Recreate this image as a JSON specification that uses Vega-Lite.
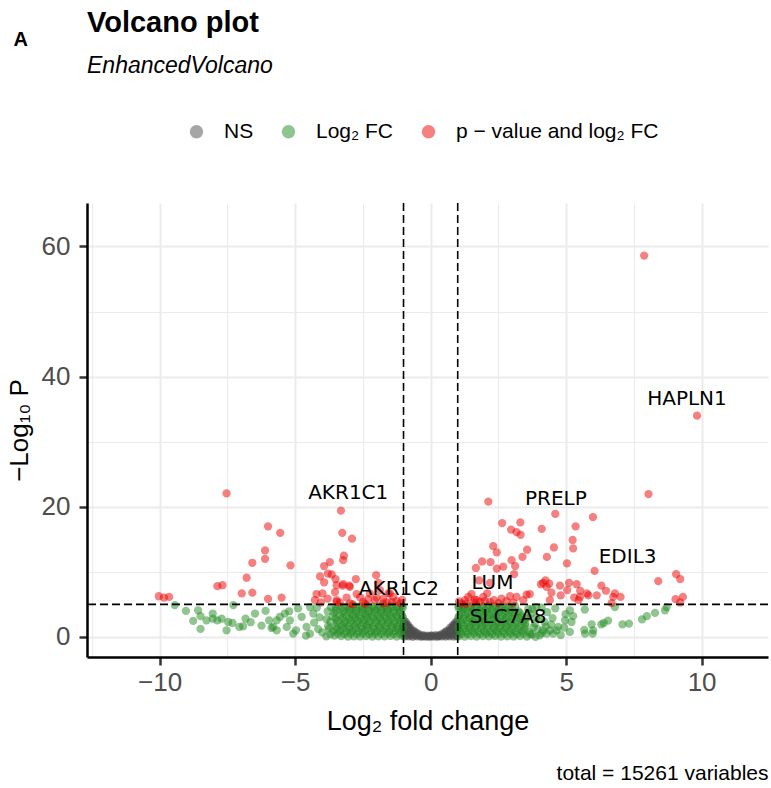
{
  "$schema": "https://vega.github.io/schema/vega-lite/v6.json",
  "width": 681,
  "height": 454,
  "autosize": {"type": "none"},
  "padding": {"left": 87, "top": 203, "right": 3, "bottom": 131},
  "background": "white",
  "config": {"view": {"stroke": null}, "font": "Liberation Sans"},
  "title": {
    "text": "Volcano plot",
    "subtitle": "EnhancedVolcano",
    "anchor": "start",
    "frame": "group",
    "font": "Liberation Sans",
    "fontSize": 29,
    "fontWeight": "bold",
    "color": "black",
    "subtitleFont": "Liberation Sans",
    "subtitleFontSize": 23,
    "subtitleFontStyle": "italic",
    "subtitleColor": "black",
    "subtitlePadding": 17,
    "offset": -49
  },
  "datasets": {
    "pts": [
      {"x": -0.96, "y": 0.05, "c": "n"}, {"x": -0.81, "y": 0.1, "c": "n"}, {"x": -0.66, "y": 0.02, "c": "n"}, {"x": -0.5, "y": 0.08, "c": "n"}, {"x": -0.35, "y": 0.03, "c": "n"}, {"x": -0.2, "y": 0.06, "c": "n"}, {"x": -0.05, "y": 0.02, "c": "n"}, {"x": 0.1, "y": 0.05, "c": "n"}, {"x": 0.25, "y": 0.03, "c": "n"}, {"x": 0.4, "y": 0.07, "c": "n"}, {"x": 0.55, "y": 0.04, "c": "n"}, {"x": 0.7, "y": 0.09, "c": "n"}, {"x": 0.85, "y": 0.05, "c": "n"}, {"x": 0.97, "y": 0.08, "c": "n"},
      {"x": -0.88, "y": 0.2, "c": "n"}, {"x": -0.73, "y": 0.18, "c": "n"}, {"x": -0.58, "y": 0.22, "c": "n"}, {"x": -0.43, "y": 0.17, "c": "n"}, {"x": -0.28, "y": 0.12, "c": "n"}, {"x": -0.13, "y": 0.1, "c": "n"}, {"x": 0.02, "y": 0.14, "c": "n"}, {"x": 0.17, "y": 0.12, "c": "n"}, {"x": 0.32, "y": 0.16, "c": "n"}, {"x": 0.47, "y": 0.2, "c": "n"}, {"x": 0.62, "y": 0.19, "c": "n"}, {"x": 0.77, "y": 0.23, "c": "n"}, {"x": 0.92, "y": 0.21, "c": "n"},
      {"x": -0.98, "y": 0.4, "c": "n"}, {"x": -0.86, "y": 0.35, "c": "n"}, {"x": -0.72, "y": 0.38, "c": "n"}, {"x": -0.57, "y": 0.3, "c": "n"}, {"x": -0.42, "y": 0.33, "c": "n"}, {"x": -0.27, "y": 0.28, "c": "n"}, {"x": -0.12, "y": 0.22, "c": "n"}, {"x": 0.03, "y": 0.25, "c": "n"}, {"x": 0.18, "y": 0.27, "c": "n"}, {"x": 0.33, "y": 0.3, "c": "n"}, {"x": 0.48, "y": 0.36, "c": "n"}, {"x": 0.63, "y": 0.34, "c": "n"}, {"x": 0.78, "y": 0.4, "c": "n"}, {"x": 0.93, "y": 0.37, "c": "n"},
      {"x": -0.97, "y": 0.75, "c": "n"}, {"x": -0.88, "y": 0.68, "c": "n"}, {"x": -0.76, "y": 0.72, "c": "n"}, {"x": -0.64, "y": 0.66, "c": "n"}, {"x": -0.52, "y": 0.6, "c": "n"}, {"x": 0.5, "y": 0.62, "c": "n"}, {"x": 0.62, "y": 0.7, "c": "n"}, {"x": 0.74, "y": 0.66, "c": "n"}, {"x": 0.86, "y": 0.74, "c": "n"}, {"x": 0.96, "y": 0.7, "c": "n"},
      {"x": -0.93, "y": 0.92, "c": "n"}, {"x": -0.82, "y": 0.88, "c": "n"}, {"x": -0.7, "y": 0.84, "c": "n"}, {"x": -0.58, "y": 0.78, "c": "n"}, {"x": 0.56, "y": 0.8, "c": "n"}, {"x": 0.68, "y": 0.86, "c": "n"}, {"x": 0.8, "y": 0.9, "c": "n"}, {"x": 0.92, "y": 0.94, "c": "n"},
      {"x": -0.99, "y": 1.15, "c": "n"}, {"x": -0.9, "y": 1.1, "c": "n"}, {"x": -0.8, "y": 1.05, "c": "n"}, {"x": -0.7, "y": 1.02, "c": "n"}, {"x": -0.62, "y": 0.95, "c": "n"}, {"x": 0.6, "y": 0.98, "c": "n"}, {"x": 0.7, "y": 1.05, "c": "n"}, {"x": 0.8, "y": 1.1, "c": "n"}, {"x": 0.9, "y": 1.08, "c": "n"}, {"x": 0.98, "y": 1.15, "c": "n"},
      {"x": -0.95, "y": 1.36, "c": "n"}, {"x": -0.85, "y": 1.3, "c": "n"}, {"x": -0.76, "y": 1.24, "c": "n"}, {"x": 0.77, "y": 1.26, "c": "n"}, {"x": 0.86, "y": 1.32, "c": "n"}, {"x": 0.95, "y": 1.38, "c": "n"},
      {"x": -0.98, "y": 1.6, "c": "n"}, {"x": -0.9, "y": 1.52, "c": "n"}, {"x": -0.82, "y": 1.48, "c": "n"}, {"x": -0.74, "y": 1.4, "c": "n"}, {"x": 0.72, "y": 1.42, "c": "n"}, {"x": 0.8, "y": 1.5, "c": "n"}, {"x": 0.88, "y": 1.55, "c": "n"}, {"x": 0.96, "y": 1.6, "c": "n"},
      {"x": -0.94, "y": 1.8, "c": "n"}, {"x": -0.86, "y": 1.72, "c": "n"}, {"x": 0.86, "y": 1.7, "c": "n"}, {"x": 0.94, "y": 1.8, "c": "n"},
      {"x": -0.97, "y": 2.05, "c": "n"}, {"x": -0.9, "y": 1.95, "c": "n"}, {"x": -0.83, "y": 1.85, "c": "n"}, {"x": 0.82, "y": 1.82, "c": "n"}, {"x": 0.89, "y": 1.95, "c": "n"}, {"x": 0.96, "y": 2.0, "c": "n"},
      {"x": -0.97, "y": 2.45, "c": "n"}, {"x": -0.91, "y": 2.3, "c": "n"}, {"x": 0.91, "y": 2.25, "c": "n"}, {"x": 0.97, "y": 2.4, "c": "n"},
      {"x": -0.45, "y": 0.5, "c": "n"}, {"x": 0.42, "y": 0.48, "c": "n"}, {"x": -0.3, "y": 0.15, "c": "n"}, {"x": 0.3, "y": 0.15, "c": "n"}, {"x": 0.0, "y": 0.12, "c": "n"},

      {"x": -1.04, "y": 0.12, "c": "f"}, {"x": -1.25, "y": 0.05, "c": "f"}, {"x": -1.48, "y": 0.15, "c": "f"}, {"x": -1.7, "y": 0.08, "c": "f"}, {"x": -1.93, "y": 0.1, "c": "f"}, {"x": -2.15, "y": 0.04, "c": "f"}, {"x": -2.38, "y": 0.14, "c": "f"}, {"x": -2.6, "y": 0.07, "c": "f"}, {"x": -2.83, "y": 0.1, "c": "f"}, {"x": -3.05, "y": 0.05, "c": "f"}, {"x": -3.3, "y": 0.12, "c": "f"}, {"x": -3.55, "y": 0.2, "c": "f"}, {"x": -3.85, "y": 0.1, "c": "f"},
      {"x": -1.15, "y": 0.5, "c": "f"}, {"x": -1.37, "y": 0.46, "c": "f"}, {"x": -1.6, "y": 0.54, "c": "f"}, {"x": -1.82, "y": 0.48, "c": "f"}, {"x": -2.05, "y": 0.52, "c": "f"}, {"x": -2.27, "y": 0.44, "c": "f"}, {"x": -2.5, "y": 0.56, "c": "f"}, {"x": -2.72, "y": 0.47, "c": "f"}, {"x": -2.95, "y": 0.53, "c": "f"}, {"x": -3.18, "y": 0.45, "c": "f"}, {"x": -3.42, "y": 0.5, "c": "f"}, {"x": -3.7, "y": 0.42, "c": "f"},
      {"x": -1.08, "y": 0.85, "c": "f"}, {"x": -1.3, "y": 0.92, "c": "f"}, {"x": -1.52, "y": 0.8, "c": "f"}, {"x": -1.75, "y": 0.95, "c": "f"}, {"x": -1.97, "y": 0.88, "c": "f"}, {"x": -2.2, "y": 0.82, "c": "f"}, {"x": -2.42, "y": 0.96, "c": "f"}, {"x": -2.65, "y": 0.86, "c": "f"}, {"x": -2.88, "y": 0.9, "c": "f"}, {"x": -3.1, "y": 0.8, "c": "f"}, {"x": -3.34, "y": 0.94, "c": "f"}, {"x": -3.6, "y": 0.85, "c": "f"}, {"x": -4.0, "y": 0.7, "c": "f"},
      {"x": -1.02, "y": 1.3, "c": "f"}, {"x": -1.2, "y": 1.26, "c": "f"}, {"x": -1.41, "y": 1.34, "c": "f"}, {"x": -1.63, "y": 1.28, "c": "f"}, {"x": -1.86, "y": 1.32, "c": "f"}, {"x": -2.08, "y": 1.24, "c": "f"}, {"x": -2.31, "y": 1.36, "c": "f"}, {"x": -2.53, "y": 1.27, "c": "f"}, {"x": -2.76, "y": 1.33, "c": "f"}, {"x": -2.99, "y": 1.25, "c": "f"}, {"x": -3.22, "y": 1.3, "c": "f"}, {"x": -3.46, "y": 1.22, "c": "f"}, {"x": -3.75, "y": 1.28, "c": "f"},
      {"x": -1.03, "y": 1.7, "c": "f"}, {"x": -1.22, "y": 1.62, "c": "f"}, {"x": -1.45, "y": 1.75, "c": "f"}, {"x": -1.66, "y": 1.68, "c": "f"}, {"x": -1.9, "y": 1.72, "c": "f"}, {"x": -2.12, "y": 1.6, "c": "f"}, {"x": -2.35, "y": 1.78, "c": "f"}, {"x": -2.57, "y": 1.66, "c": "f"}, {"x": -2.8, "y": 1.74, "c": "f"}, {"x": -3.02, "y": 1.63, "c": "f"}, {"x": -3.26, "y": 1.7, "c": "f"}, {"x": -3.5, "y": 1.58, "c": "f"}, {"x": -3.78, "y": 1.65, "c": "f"},
      {"x": -1.14, "y": 2.1, "c": "f"}, {"x": -1.36, "y": 2.06, "c": "f"}, {"x": -1.59, "y": 2.14, "c": "f"}, {"x": -1.82, "y": 2.08, "c": "f"}, {"x": -2.04, "y": 2.12, "c": "f"}, {"x": -2.28, "y": 2.04, "c": "f"}, {"x": -2.5, "y": 2.16, "c": "f"}, {"x": -2.73, "y": 2.07, "c": "f"}, {"x": -2.97, "y": 2.13, "c": "f"}, {"x": -3.2, "y": 2.05, "c": "f"}, {"x": -3.46, "y": 2.1, "c": "f"},
      {"x": -1.1, "y": 2.5, "c": "f"}, {"x": -1.33, "y": 2.44, "c": "f"}, {"x": -1.55, "y": 2.56, "c": "f"}, {"x": -1.78, "y": 2.48, "c": "f"}, {"x": -2.0, "y": 2.52, "c": "f"}, {"x": -2.24, "y": 2.42, "c": "f"}, {"x": -2.46, "y": 2.58, "c": "f"}, {"x": -2.7, "y": 2.46, "c": "f"}, {"x": -2.93, "y": 2.55, "c": "f"}, {"x": -3.17, "y": 2.4, "c": "f"}, {"x": -3.42, "y": 2.5, "c": "f"}, {"x": -3.7, "y": 2.35, "c": "f"},
      {"x": -1.02, "y": 2.9, "c": "f"}, {"x": -1.2, "y": 2.86, "c": "f"}, {"x": -1.42, "y": 2.94, "c": "f"}, {"x": -1.64, "y": 2.88, "c": "f"}, {"x": -1.87, "y": 2.92, "c": "f"}, {"x": -2.1, "y": 2.84, "c": "f"}, {"x": -2.33, "y": 2.96, "c": "f"}, {"x": -2.56, "y": 2.87, "c": "f"}, {"x": -2.78, "y": 2.93, "c": "f"}, {"x": -3.0, "y": 2.85, "c": "f"}, {"x": -3.24, "y": 2.9, "c": "f"}, {"x": -3.5, "y": 2.82, "c": "f"}, {"x": -3.85, "y": 2.75, "c": "f"},
      {"x": -1.05, "y": 3.3, "c": "f"}, {"x": -1.26, "y": 3.24, "c": "f"}, {"x": -1.5, "y": 3.36, "c": "f"}, {"x": -1.72, "y": 3.28, "c": "f"}, {"x": -1.95, "y": 3.32, "c": "f"}, {"x": -2.18, "y": 3.22, "c": "f"}, {"x": -2.4, "y": 3.38, "c": "f"}, {"x": -2.63, "y": 3.26, "c": "f"}, {"x": -2.86, "y": 3.34, "c": "f"}, {"x": -3.1, "y": 3.2, "c": "f"}, {"x": -3.35, "y": 3.3, "c": "f"}, {"x": -3.62, "y": 3.15, "c": "f"}, {"x": -4.1, "y": 3.0, "c": "f"},
      {"x": -1.15, "y": 3.7, "c": "f"}, {"x": -1.38, "y": 3.66, "c": "f"}, {"x": -1.62, "y": 3.74, "c": "f"}, {"x": -1.84, "y": 3.68, "c": "f"}, {"x": -2.07, "y": 3.72, "c": "f"}, {"x": -2.3, "y": 3.64, "c": "f"}, {"x": -2.53, "y": 3.76, "c": "f"}, {"x": -2.76, "y": 3.67, "c": "f"}, {"x": -3.0, "y": 3.73, "c": "f"}, {"x": -3.25, "y": 3.65, "c": "f"}, {"x": -3.55, "y": 3.7, "c": "f"},
      {"x": -1.12, "y": 4.1, "c": "f"}, {"x": -1.35, "y": 4.04, "c": "f"}, {"x": -1.58, "y": 4.16, "c": "f"}, {"x": -1.8, "y": 4.08, "c": "f"}, {"x": -2.03, "y": 4.12, "c": "f"}, {"x": -2.27, "y": 4.02, "c": "f"}, {"x": -2.5, "y": 4.18, "c": "f"}, {"x": -2.74, "y": 4.06, "c": "f"}, {"x": -2.98, "y": 4.14, "c": "f"}, {"x": -3.22, "y": 4.0, "c": "f"}, {"x": -3.5, "y": 4.1, "c": "f"}, {"x": -3.8, "y": 3.95, "c": "f"},
      {"x": -1.03, "y": 4.45, "c": "f"}, {"x": -1.18, "y": 4.42, "c": "f"}, {"x": -1.4, "y": 4.5, "c": "f"}, {"x": -1.62, "y": 4.44, "c": "f"}, {"x": -1.85, "y": 4.48, "c": "f"}, {"x": -2.08, "y": 4.4, "c": "f"}, {"x": -2.3, "y": 4.52, "c": "f"}, {"x": -2.53, "y": 4.43, "c": "f"}, {"x": -2.76, "y": 4.49, "c": "f"}, {"x": -3.0, "y": 4.41, "c": "f"}, {"x": -3.24, "y": 4.46, "c": "f"}, {"x": -3.5, "y": 4.38, "c": "f"},
      {"x": -1.04, "y": 4.78, "c": "f"}, {"x": -1.25, "y": 4.72, "c": "f"}, {"x": -1.47, "y": 4.82, "c": "f"}, {"x": -1.7, "y": 4.75, "c": "f"}, {"x": -1.92, "y": 4.8, "c": "f"}, {"x": -2.15, "y": 4.7, "c": "f"}, {"x": -2.38, "y": 4.85, "c": "f"}, {"x": -2.62, "y": 4.74, "c": "f"}, {"x": -2.85, "y": 4.8, "c": "f"}, {"x": -3.1, "y": 4.68, "c": "f"}, {"x": -3.38, "y": 4.76, "c": "f"}, {"x": -3.68, "y": 4.6, "c": "f"}, {"x": -4.2, "y": 4.5, "c": "f"},
      {"x": -9.44, "y": 4.9, "c": "f"}, {"x": -9.03, "y": 4.0, "c": "f"}, {"x": -8.76, "y": 2.46, "c": "f"}, {"x": -8.49, "y": 1.23, "c": "f"}, {"x": -8.58, "y": 4.1, "c": "f"}, {"x": -8.49, "y": 3.2, "c": "f"}, {"x": -8.27, "y": 2.56, "c": "f"}, {"x": -8.04, "y": 3.6, "c": "f"}, {"x": -8.04, "y": 2.8, "c": "f"}, {"x": -7.87, "y": 2.56, "c": "f"}, {"x": -7.71, "y": 2.8, "c": "f"}, {"x": -7.53, "y": 1.03, "c": "f"}, {"x": -7.47, "y": 2.3, "c": "f"}, {"x": -7.28, "y": 4.9, "c": "f"}, {"x": -7.31, "y": 2.15, "c": "f"}, {"x": -7.06, "y": 1.54, "c": "f"}, {"x": -6.92, "y": 1.64, "c": "f"}, {"x": -6.83, "y": 2.8, "c": "f"}, {"x": -6.64, "y": 2.26, "c": "f"}, {"x": -6.48, "y": 3.6, "c": "f"}, {"x": -6.24, "y": 1.75, "c": "f"}, {"x": -6.09, "y": 4.0, "c": "f"}, {"x": -5.96, "y": 2.56, "c": "f"}, {"x": -5.87, "y": 1.38, "c": "f"}, {"x": -5.68, "y": 1.03, "c": "f"}, {"x": -5.22, "y": 3.95, "c": "f"}, {"x": -5.19, "y": 2.56, "c": "f"}, {"x": -5.56, "y": 3.1, "c": "f"}, {"x": -5.31, "y": 1.54, "c": "f"}, {"x": -5.07, "y": 0.5, "c": "f"}, {"x": -4.89, "y": 4.4, "c": "f"}, {"x": -4.76, "y": 3.1, "c": "f"}, {"x": -4.58, "y": 1.54, "c": "f"}, {"x": -4.45, "y": 0.5, "c": "f"}, {"x": -4.33, "y": 3.6, "c": "f"}, {"x": -4.45, "y": 4.6, "c": "f"}, {"x": -4.97, "y": 1.03, "c": "f"}, {"x": -5.81, "y": 1.54, "c": "f"}, {"x": -5.68, "y": 2.56, "c": "f"}, {"x": -5.38, "y": 3.6, "c": "f"}, {"x": -4.3, "y": 2.2, "c": "f"}, {"x": -4.15, "y": 1.2, "c": "f"}, {"x": -4.6, "y": 0.2, "c": "f"},

      {"x": 1.04, "y": 0.1, "c": "f"}, {"x": 1.26, "y": 0.06, "c": "f"}, {"x": 1.48, "y": 0.14, "c": "f"}, {"x": 1.7, "y": 0.05, "c": "f"}, {"x": 1.93, "y": 0.12, "c": "f"}, {"x": 2.15, "y": 0.08, "c": "f"}, {"x": 2.38, "y": 0.15, "c": "f"}, {"x": 2.6, "y": 0.04, "c": "f"}, {"x": 2.83, "y": 0.1, "c": "f"}, {"x": 3.06, "y": 0.07, "c": "f"}, {"x": 3.3, "y": 0.13, "c": "f"}, {"x": 3.55, "y": 0.05, "c": "f"},
      {"x": 1.15, "y": 0.5, "c": "f"}, {"x": 1.37, "y": 0.46, "c": "f"}, {"x": 1.6, "y": 0.54, "c": "f"}, {"x": 1.82, "y": 0.48, "c": "f"}, {"x": 2.05, "y": 0.52, "c": "f"}, {"x": 2.27, "y": 0.44, "c": "f"}, {"x": 2.5, "y": 0.56, "c": "f"}, {"x": 2.72, "y": 0.47, "c": "f"}, {"x": 2.95, "y": 0.53, "c": "f"}, {"x": 3.18, "y": 0.45, "c": "f"}, {"x": 3.42, "y": 0.5, "c": "f"}, {"x": 3.68, "y": 0.42, "c": "f"},
      {"x": 1.08, "y": 0.88, "c": "f"}, {"x": 1.3, "y": 0.82, "c": "f"}, {"x": 1.52, "y": 0.95, "c": "f"}, {"x": 1.75, "y": 0.85, "c": "f"}, {"x": 1.98, "y": 0.9, "c": "f"}, {"x": 2.2, "y": 0.8, "c": "f"}, {"x": 2.43, "y": 0.94, "c": "f"}, {"x": 2.66, "y": 0.86, "c": "f"}, {"x": 2.9, "y": 0.92, "c": "f"}, {"x": 3.13, "y": 0.8, "c": "f"}, {"x": 3.38, "y": 0.9, "c": "f"}, {"x": 3.65, "y": 0.75, "c": "f"},
      {"x": 1.02, "y": 1.3, "c": "f"}, {"x": 1.2, "y": 1.26, "c": "f"}, {"x": 1.41, "y": 1.34, "c": "f"}, {"x": 1.63, "y": 1.28, "c": "f"}, {"x": 1.86, "y": 1.32, "c": "f"}, {"x": 2.08, "y": 1.24, "c": "f"}, {"x": 2.31, "y": 1.36, "c": "f"}, {"x": 2.53, "y": 1.27, "c": "f"}, {"x": 2.76, "y": 1.33, "c": "f"}, {"x": 2.99, "y": 1.25, "c": "f"}, {"x": 3.22, "y": 1.3, "c": "f"}, {"x": 3.46, "y": 1.22, "c": "f"},
      {"x": 1.03, "y": 1.68, "c": "f"}, {"x": 1.22, "y": 1.74, "c": "f"}, {"x": 1.45, "y": 1.62, "c": "f"}, {"x": 1.67, "y": 1.72, "c": "f"}, {"x": 1.9, "y": 1.66, "c": "f"}, {"x": 2.12, "y": 1.76, "c": "f"}, {"x": 2.35, "y": 1.6, "c": "f"}, {"x": 2.58, "y": 1.7, "c": "f"}, {"x": 2.8, "y": 1.65, "c": "f"}, {"x": 3.03, "y": 1.75, "c": "f"}, {"x": 3.28, "y": 1.6, "c": "f"}, {"x": 3.5, "y": 1.68, "c": "f"}, {"x": 3.8, "y": 1.5, "c": "f"},
      {"x": 1.14, "y": 2.1, "c": "f"}, {"x": 1.36, "y": 2.06, "c": "f"}, {"x": 1.59, "y": 2.14, "c": "f"}, {"x": 1.82, "y": 2.08, "c": "f"}, {"x": 2.04, "y": 2.12, "c": "f"}, {"x": 2.28, "y": 2.04, "c": "f"}, {"x": 2.5, "y": 2.16, "c": "f"}, {"x": 2.73, "y": 2.07, "c": "f"}, {"x": 2.97, "y": 2.13, "c": "f"}, {"x": 3.2, "y": 2.05, "c": "f"}, {"x": 3.5, "y": 2.1, "c": "f"},
      {"x": 1.1, "y": 2.48, "c": "f"}, {"x": 1.33, "y": 2.55, "c": "f"}, {"x": 1.55, "y": 2.42, "c": "f"}, {"x": 1.78, "y": 2.52, "c": "f"}, {"x": 2.0, "y": 2.46, "c": "f"}, {"x": 2.24, "y": 2.58, "c": "f"}, {"x": 2.47, "y": 2.44, "c": "f"}, {"x": 2.7, "y": 2.5, "c": "f"}, {"x": 2.93, "y": 2.4, "c": "f"}, {"x": 3.18, "y": 2.52, "c": "f"}, {"x": 3.42, "y": 2.38, "c": "f"},
      {"x": 1.02, "y": 2.9, "c": "f"}, {"x": 1.2, "y": 2.86, "c": "f"}, {"x": 1.42, "y": 2.94, "c": "f"}, {"x": 1.64, "y": 2.88, "c": "f"}, {"x": 1.87, "y": 2.92, "c": "f"}, {"x": 2.1, "y": 2.84, "c": "f"}, {"x": 2.33, "y": 2.96, "c": "f"}, {"x": 2.56, "y": 2.87, "c": "f"}, {"x": 2.78, "y": 2.93, "c": "f"}, {"x": 3.0, "y": 2.85, "c": "f"}, {"x": 3.24, "y": 2.9, "c": "f"}, {"x": 3.5, "y": 2.82, "c": "f"},
      {"x": 1.05, "y": 3.28, "c": "f"}, {"x": 1.27, "y": 3.34, "c": "f"}, {"x": 1.5, "y": 3.22, "c": "f"}, {"x": 1.72, "y": 3.3, "c": "f"}, {"x": 1.95, "y": 3.26, "c": "f"}, {"x": 2.18, "y": 3.36, "c": "f"}, {"x": 2.4, "y": 3.2, "c": "f"}, {"x": 2.64, "y": 3.32, "c": "f"}, {"x": 2.87, "y": 3.24, "c": "f"}, {"x": 3.1, "y": 3.3, "c": "f"}, {"x": 3.35, "y": 3.18, "c": "f"}, {"x": 3.6, "y": 3.05, "c": "f"},
      {"x": 1.15, "y": 3.7, "c": "f"}, {"x": 1.38, "y": 3.66, "c": "f"}, {"x": 1.62, "y": 3.74, "c": "f"}, {"x": 1.84, "y": 3.68, "c": "f"}, {"x": 2.07, "y": 3.72, "c": "f"}, {"x": 2.3, "y": 3.64, "c": "f"}, {"x": 2.53, "y": 3.76, "c": "f"}, {"x": 2.76, "y": 3.67, "c": "f"}, {"x": 3.0, "y": 3.73, "c": "f"}, {"x": 3.3, "y": 3.65, "c": "f"},
      {"x": 1.12, "y": 4.08, "c": "f"}, {"x": 1.35, "y": 4.14, "c": "f"}, {"x": 1.58, "y": 4.02, "c": "f"}, {"x": 1.8, "y": 4.12, "c": "f"}, {"x": 2.03, "y": 4.06, "c": "f"}, {"x": 2.27, "y": 4.16, "c": "f"}, {"x": 2.5, "y": 4.0, "c": "f"}, {"x": 2.74, "y": 4.1, "c": "f"}, {"x": 2.98, "y": 4.04, "c": "f"}, {"x": 3.24, "y": 3.95, "c": "f"},
      {"x": 1.03, "y": 4.45, "c": "f"}, {"x": 1.18, "y": 4.42, "c": "f"}, {"x": 1.4, "y": 4.5, "c": "f"}, {"x": 1.62, "y": 4.44, "c": "f"}, {"x": 1.85, "y": 4.48, "c": "f"}, {"x": 2.08, "y": 4.4, "c": "f"}, {"x": 2.3, "y": 4.52, "c": "f"}, {"x": 2.53, "y": 4.43, "c": "f"}, {"x": 2.76, "y": 4.49, "c": "f"}, {"x": 3.0, "y": 4.41, "c": "f"},
      {"x": 1.04, "y": 4.76, "c": "f"}, {"x": 1.25, "y": 4.82, "c": "f"}, {"x": 1.48, "y": 4.7, "c": "f"}, {"x": 1.7, "y": 4.8, "c": "f"}, {"x": 1.93, "y": 4.74, "c": "f"}, {"x": 2.16, "y": 4.84, "c": "f"}, {"x": 2.4, "y": 4.7, "c": "f"}, {"x": 2.63, "y": 4.78, "c": "f"}, {"x": 2.87, "y": 4.65, "c": "f"}, {"x": 3.12, "y": 4.72, "c": "f"},
      {"x": 3.75, "y": 0.4, "c": "f"}, {"x": 3.95, "y": 1.2, "c": "f"}, {"x": 4.1, "y": 0.6, "c": "f"}, {"x": 3.85, "y": 2.1, "c": "f"}, {"x": 4.0, "y": 2.8, "c": "f"}, {"x": 3.7, "y": 3.6, "c": "f"}, {"x": 4.25, "y": 1.6, "c": "f"}, {"x": 3.6, "y": 4.3, "c": "f"}, {"x": 3.9, "y": 4.6, "c": "f"}, {"x": 4.1, "y": 4.5, "c": "f"}, {"x": 4.3, "y": 3.8, "c": "f"}, {"x": 3.9, "y": 3.0, "c": "f"}, {"x": 4.2, "y": 2.3, "c": "f"}, {"x": 4.5, "y": 2.9, "c": "f"}, {"x": 3.75, "y": 4.3, "c": "f"}, {"x": 4.6, "y": 4.4, "c": "f"}, {"x": 4.45, "y": 1.9, "c": "f"}, {"x": 4.8, "y": 0.3, "c": "f"},
      {"x": 5.14, "y": 4.1, "c": "f"}, {"x": 4.98, "y": 3.5, "c": "f"}, {"x": 5.26, "y": 3.2, "c": "f"}, {"x": 4.96, "y": 2.56, "c": "f"}, {"x": 5.2, "y": 2.3, "c": "f"}, {"x": 4.93, "y": 1.45, "c": "f"}, {"x": 5.14, "y": 0.77, "c": "f"}, {"x": 4.65, "y": 1.03, "c": "f"}, {"x": 4.52, "y": 0.5, "c": "f"}, {"x": 4.71, "y": 1.54, "c": "f"}, {"x": 4.28, "y": 0.5, "c": "f"}, {"x": 4.15, "y": 1.03, "c": "f"}, {"x": 3.87, "y": 0.0, "c": "f"}, {"x": 4.03, "y": 0.26, "c": "f"}, {"x": 4.4, "y": 1.03, "c": "f"}, {"x": 5.69, "y": 4.2, "c": "f"}, {"x": 5.94, "y": 1.95, "c": "f"}, {"x": 6.0, "y": 1.0, "c": "f"}, {"x": 5.67, "y": 1.1, "c": "f"}, {"x": 5.7, "y": 0.5, "c": "f"}, {"x": 5.98, "y": 0.5, "c": "f"}, {"x": 6.3, "y": 1.95, "c": "f"}, {"x": 6.55, "y": 2.5, "c": "f"}, {"x": 6.39, "y": 2.15, "c": "f"}, {"x": 6.8, "y": 4.6, "c": "f"}, {"x": 7.08, "y": 1.95, "c": "f"}, {"x": 7.32, "y": 2.05, "c": "f"}, {"x": 7.8, "y": 2.7, "c": "f"}, {"x": 7.98, "y": 3.2, "c": "f"}, {"x": 8.28, "y": 3.7, "c": "f"}, {"x": 8.65, "y": 4.1, "c": "f"}, {"x": 8.71, "y": 4.6, "c": "f"},

      {"x": -7.53, "y": 22.06, "c": "p"}, {"x": -3.31, "y": 19.4, "c": "p"}, {"x": -6.0, "y": 17.0, "c": "p"}, {"x": -5.55, "y": 16.0, "c": "p"}, {"x": -3.26, "y": 16.0, "c": "p"}, {"x": -2.9, "y": 15.1, "c": "p"}, {"x": -6.11, "y": 13.3, "c": "p"}, {"x": -6.11, "y": 12.0, "c": "p"}, {"x": -3.2, "y": 12.5, "c": "p"}, {"x": -3.23, "y": 11.8, "c": "p"}, {"x": -6.58, "y": 11.4, "c": "p"}, {"x": -5.17, "y": 11.0, "c": "p"}, {"x": -3.72, "y": 11.5, "c": "p"}, {"x": -3.93, "y": 10.9, "c": "p"}, {"x": -3.79, "y": 9.75, "c": "p"}, {"x": -4.08, "y": 9.3, "c": "p"}, {"x": -3.93, "y": 8.4, "c": "p"}, {"x": -3.51, "y": 8.9, "c": "p"}, {"x": -6.79, "y": 9.1, "c": "p"}, {"x": -2.01, "y": 9.5, "c": "p"}, {"x": -2.76, "y": 8.9, "c": "p"}, {"x": -7.87, "y": 7.8, "c": "p"}, {"x": -7.68, "y": 7.95, "c": "p"}, {"x": -6.97, "y": 6.7, "c": "p"}, {"x": -6.58, "y": 6.8, "c": "p"}, {"x": -6.0, "y": 5.85, "c": "p"}, {"x": -5.5, "y": 6.05, "c": "p"}, {"x": -10.03, "y": 6.26, "c": "p"}, {"x": -9.84, "y": 6.06, "c": "p"}, {"x": -9.65, "y": 6.15, "c": "p"}, {"x": -3.25, "y": 7.9, "c": "p"}, {"x": -3.0, "y": 7.9, "c": "p"}, {"x": -4.21, "y": 6.6, "c": "p"}, {"x": -3.99, "y": 6.7, "c": "p"}, {"x": -3.53, "y": 6.9, "c": "p"}, {"x": -4.27, "y": 5.65, "c": "p"}, {"x": -3.47, "y": 5.65, "c": "p"}, {"x": -3.1, "y": 6.06, "c": "p"}, {"x": -2.73, "y": 6.6, "c": "p"}, {"x": -2.42, "y": 5.1, "c": "p"}, {"x": -1.99, "y": 6.06, "c": "p"}, {"x": -1.93, "y": 8.3, "c": "p"}, {"x": -1.56, "y": 6.7, "c": "p"}, {"x": -1.38, "y": 6.15, "c": "p"}, {"x": -1.25, "y": 5.5, "c": "p"}, {"x": -2.88, "y": 5.05, "c": "p"}, {"x": -3.35, "y": 5.3, "c": "p"}, {"x": -2.06, "y": 5.65, "c": "p"}, {"x": -1.75, "y": 5.85, "c": "p"}, {"x": -1.44, "y": 5.4, "c": "p"}, {"x": -1.13, "y": 5.2, "c": "p"}, {"x": -3.65, "y": 9.6, "c": "p"}, {"x": -3.47, "y": 7.95, "c": "p"}, {"x": -3.22, "y": 8.1, "c": "p"}, {"x": -2.98, "y": 7.7, "c": "p"}, {"x": -1.87, "y": 7.2, "c": "p"}, {"x": -1.5, "y": 6.7, "c": "p"}, {"x": -2.24, "y": 6.7, "c": "p"}, {"x": -2.49, "y": 5.4, "c": "p"}, {"x": -3.47, "y": 5.4, "c": "p"}, {"x": -2.98, "y": 5.15, "c": "p"}, {"x": -1.75, "y": 5.15, "c": "p"}, {"x": -4.05, "y": 5.3, "c": "p"}, {"x": -3.8, "y": 5.9, "c": "p"}, {"x": -2.6, "y": 6.1, "c": "p"}, {"x": -2.3, "y": 5.8, "c": "p"}, {"x": -1.62, "y": 5.3, "c": "p"}, {"x": -1.05, "y": 5.7, "c": "p"},
      {"x": 9.83, "y": 34.0, "c": "p"}, {"x": 7.88, "y": 58.6, "c": "p"}, {"x": 8.04, "y": 21.95, "c": "p"}, {"x": 2.13, "y": 20.8, "c": "p"}, {"x": 4.6, "y": 18.9, "c": "p"}, {"x": 5.99, "y": 18.4, "c": "p"}, {"x": 2.64, "y": 17.5, "c": "p"}, {"x": 3.31, "y": 17.6, "c": "p"}, {"x": 2.97, "y": 16.5, "c": "p"}, {"x": 3.17, "y": 16.1, "c": "p"}, {"x": 3.32, "y": 15.7, "c": "p"}, {"x": 4.1, "y": 16.6, "c": "p"}, {"x": 5.35, "y": 17.0, "c": "p"}, {"x": 5.24, "y": 14.9, "c": "p"}, {"x": 5.26, "y": 13.6, "c": "p"}, {"x": 2.31, "y": 13.95, "c": "p"}, {"x": 2.44, "y": 13.0, "c": "p"}, {"x": 3.56, "y": 13.4, "c": "p"}, {"x": 4.55, "y": 13.75, "c": "p"}, {"x": 3.39, "y": 12.3, "c": "p"}, {"x": 4.29, "y": 12.3, "c": "p"}, {"x": 1.9, "y": 11.6, "c": "p"}, {"x": 2.21, "y": 11.5, "c": "p"}, {"x": 5.03, "y": 11.3, "c": "p"}, {"x": 3.12, "y": 10.9, "c": "p"}, {"x": 1.67, "y": 10.6, "c": "p"}, {"x": 3.08, "y": 9.65, "c": "p"}, {"x": 6.05, "y": 10.15, "c": "p"}, {"x": 1.79, "y": 8.7, "c": "p"}, {"x": 2.19, "y": 8.3, "c": "p"}, {"x": 4.07, "y": 8.1, "c": "p"}, {"x": 4.24, "y": 8.7, "c": "p"}, {"x": 4.38, "y": 8.2, "c": "p"}, {"x": 4.77, "y": 7.9, "c": "p"}, {"x": 5.11, "y": 8.3, "c": "p"}, {"x": 5.39, "y": 8.1, "c": "p"}, {"x": 5.04, "y": 7.2, "c": "p"}, {"x": 5.52, "y": 7.1, "c": "p"}, {"x": 5.77, "y": 6.7, "c": "p"}, {"x": 6.13, "y": 6.4, "c": "p"}, {"x": 6.3, "y": 7.9, "c": "p"}, {"x": 6.47, "y": 7.1, "c": "p"}, {"x": 6.8, "y": 6.7, "c": "p"}, {"x": 7.01, "y": 6.15, "c": "p"}, {"x": 8.4, "y": 8.57, "c": "p"}, {"x": 9.06, "y": 9.65, "c": "p"}, {"x": 9.21, "y": 8.9, "c": "p"}, {"x": 9.04, "y": 5.8, "c": "p"}, {"x": 9.31, "y": 6.15, "c": "p"}, {"x": 9.21, "y": 5.3, "c": "p"}, {"x": 6.68, "y": 5.2, "c": "p"}, {"x": 5.82, "y": 6.4, "c": "p"}, {"x": 5.46, "y": 5.65, "c": "p"}, {"x": 5.51, "y": 6.15, "c": "p"}, {"x": 4.46, "y": 6.8, "c": "p"}, {"x": 4.4, "y": 5.65, "c": "p"}, {"x": 3.54, "y": 6.5, "c": "p"}, {"x": 3.66, "y": 6.6, "c": "p"}, {"x": 3.42, "y": 5.65, "c": "p"}, {"x": 2.62, "y": 5.9, "c": "p"}, {"x": 2.93, "y": 6.26, "c": "p"}, {"x": 2.34, "y": 5.65, "c": "p"}, {"x": 2.09, "y": 6.7, "c": "p"}, {"x": 1.94, "y": 6.15, "c": "p"}, {"x": 1.39, "y": 6.15, "c": "p"}, {"x": 1.51, "y": 6.6, "c": "p"}, {"x": 1.63, "y": 5.75, "c": "p"}, {"x": 1.82, "y": 5.4, "c": "p"}, {"x": 1.27, "y": 5.65, "c": "p"}, {"x": 1.14, "y": 5.15, "c": "p"}, {"x": 1.57, "y": 5.3, "c": "p"}, {"x": 2.0, "y": 5.5, "c": "p"}, {"x": 4.28, "y": 7.7, "c": "p"}, {"x": 4.15, "y": 8.3, "c": "p"}, {"x": 4.8, "y": 6.4, "c": "p"}, {"x": 5.3, "y": 6.06, "c": "p"}, {"x": 6.74, "y": 6.15, "c": "p"}, {"x": 2.44, "y": 10.5, "c": "p"}, {"x": 2.68, "y": 10.8, "c": "p"}, {"x": 2.99, "y": 11.8, "c": "p"}, {"x": 3.17, "y": 6.15, "c": "p"}, {"x": 2.19, "y": 5.4, "c": "p"}, {"x": 1.7, "y": 5.65, "c": "p"}, {"x": 1.05, "y": 5.45, "c": "p"}, {"x": 1.3, "y": 5.1, "c": "p"}, {"x": 2.5, "y": 5.2, "c": "p"}, {"x": 2.8, "y": 5.5, "c": "p"}, {"x": 3.05, "y": 5.25, "c": "p"}
    ],
    "lab": [
      {"x": -3.04, "y": 22.06, "t": "AKR1C1"},
      {"x": -1.17, "y": 7.3, "t": "AKR1C2"},
      {"x": 9.46, "y": 36.6, "t": "HAPLN1"},
      {"x": 4.62, "y": 21.2, "t": "PRELP"},
      {"x": 7.27, "y": 12.26, "t": "EDIL3"},
      {"x": 2.28, "y": 8.25, "t": "LUM"},
      {"x": 2.86, "y": 3.08, "t": "SLC7A8"}
    ]
  },
  "layer": [
    {
      "data": {"name": "pts"},
      "mark": {"type": "point", "filled": true, "size": 68, "opacity": 0.5},
      "encoding": {
        "x": {
          "field": "x", "type": "quantitative",
          "scale": {"domain": [-12.68, 12.45], "nice": false, "zero": false},
          "axis": {
            "orient": "bottom", "values": [-10, -5, 0, 5, 10],
            "title": "Log₂ fold change", "titleFont": "Liberation Sans", "titleFontSize": 27, "titleFontWeight": "normal", "titleColor": "black", "titlePadding": 13,
            "labelFont": "Liberation Sans", "labelFontSize": 26, "labelColor": "#4D4D4D", "labelPadding": 4, "labelFlush": false,
            "tickSize": 8, "tickWidth": 2.5, "tickColor": "#333333",
            "domainColor": "black", "domainWidth": 2.5,
            "grid": true, "gridColor": "#EBEBEB", "gridWidth": 2
          }
        },
        "y": {
          "field": "y", "type": "quantitative",
          "scale": {"domain": [-3.08, 66.68], "nice": false, "zero": false},
          "axis": {
            "orient": "left", "values": [0, 20, 40, 60],
            "title": "−Log₁₀ P", "titleFont": "Liberation Sans", "titleFontSize": 26, "titleFontWeight": "normal", "titleColor": "black", "titlePadding": 9,
            "labelFont": "Liberation Sans", "labelFontSize": 26, "labelColor": "#4D4D4D", "labelPadding": 9, "labelFlush": false,
            "tickSize": 8, "tickWidth": 2.5, "tickColor": "#333333",
            "domainColor": "black", "domainWidth": 2.5,
            "grid": true, "gridColor": "#EBEBEB", "gridWidth": 2
          }
        },
        "color": {
          "field": "c", "type": "nominal",
          "scale": {"domain": ["n", "f", "p"], "range": ["#4D4D4D", "#228B22", "#EE0000"]},
          "legend": {
            "orient": "none", "legendX": 99, "legendY": -82, "direction": "horizontal", "title": null,
            "labelFont": "Liberation Sans", "labelFontSize": 21, "labelColor": "black", "labelLimit": 400,
            "symbolType": "circle", "symbolSize": 180, "symbolOpacity": 0.5, "symbolStrokeWidth": 0,
            "labelOffset": 17, "columnPadding": 24,
            "labelExpr": "datum.label == 'n' ? 'NS' : datum.label == 'f' ? 'Log₂ FC' : 'p − value and log₂ FC'"
          }
        }
      }
    },
    {
      "data": {"values": [{"v": -1}, {"v": 1}]},
      "mark": {"type": "rule", "strokeDash": [8, 4], "strokeWidth": 1.6, "color": "black"},
      "encoding": {
        "x": {
          "field": "v", "type": "quantitative",
          "scale": {"domain": [-12.68, 12.45], "nice": false, "zero": false},
          "axis": {
            "orient": "bottom", "values": [-12.5, -7.5, -2.5, 2.5, 7.5],
            "grid": true, "gridColor": "#EBEBEB", "gridWidth": 1,
            "labels": false, "ticks": false, "domain": false,
            "title": "total = 15261 variables", "titleX": 681, "titleY": 122, "titleAlign": "right", "titleBaseline": "alphabetic", "titleAngle": 0,
            "titleFont": "Liberation Sans", "titleFontSize": 21, "titleFontWeight": "normal", "titleColor": "black"
          }
        }
      }
    },
    {
      "data": {"values": [{"v": 5}]},
      "mark": {"type": "rule", "strokeDash": [8, 4], "strokeWidth": 1.6, "color": "black"},
      "encoding": {
        "y": {
          "field": "v", "type": "quantitative",
          "scale": {"domain": [-3.08, 66.68], "nice": false, "zero": false},
          "axis": {
            "orient": "left", "values": [10, 30, 50],
            "grid": true, "gridColor": "#EBEBEB", "gridWidth": 1,
            "labels": false, "ticks": false, "domain": false,
            "title": "A", "titleX": -74, "titleY": -158, "titleAlign": "left", "titleBaseline": "alphabetic", "titleAngle": 0,
            "titleFont": "Liberation Sans", "titleFontSize": 20, "titleFontWeight": "bold", "titleColor": "black"
          }
        }
      }
    },
    {
      "data": {"name": "lab"},
      "mark": {"type": "text", "font": "DejaVu Sans", "fontSize": 20, "color": "black", "baseline": "middle", "align": "center"},
      "encoding": {
        "x": {"field": "x", "type": "quantitative", "scale": {"domain": [-12.68, 12.45], "nice": false, "zero": false}, "axis": null},
        "y": {"field": "y", "type": "quantitative", "scale": {"domain": [-3.08, 66.68], "nice": false, "zero": false}, "axis": null},
        "text": {"field": "t"}
      }
    }
  ],
  "resolve": {"axis": {"x": "independent", "y": "independent"}}
}
